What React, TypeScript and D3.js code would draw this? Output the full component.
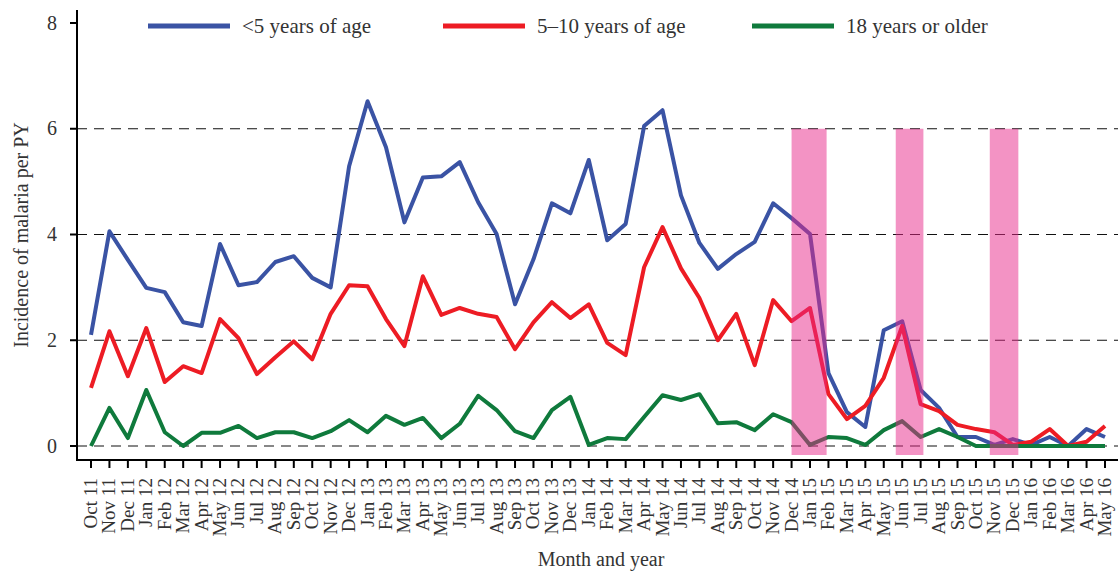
import React, { useEffect, useRef } from "react";
import * as d3 from "d3";

const months = [
  "Oct 11", "Nov 11", "Dec 11",
  "Jan 12", "Feb 12", "Mar 12", "Apr 12", "May 12", "Jun 12", "Jul 12", "Aug 12", "Sep 12", "Oct 12", "Nov 12", "Dec 12",
  "Jan 13", "Feb 13", "Mar 13", "Apr 13", "May 13", "Jun 13", "Jul 13", "Aug 13", "Sep 13", "Oct 13", "Nov 13", "Dec 13",
  "Jan 14", "Feb 14", "Mar 14", "Apr 14", "May 14", "Jun 14", "Jul 14", "Aug 14", "Sep 14", "Oct 14", "Nov 14", "Dec 14",
  "Jan 15", "Feb 15", "Mar 15", "Apr 15", "May 15", "Jun 15", "Jul 15", "Aug 15", "Sep 15", "Oct 15", "Nov 15", "Dec 15",
  "Jan 16", "Feb 16", "Mar 16", "Apr 16", "May 16",
];

const under5 = [
  2.1, 4.06, 3.52, 2.99, 2.91, 2.34, 2.27, 3.82, 3.04, 3.1, 3.48, 3.59, 3.18, 3.0, 5.29,
  6.52, 5.65, 4.23, 5.08, 5.1, 5.37, 4.61, 4.01, 2.68, 3.53, 4.59, 4.4,
  5.41, 3.89, 4.2, 6.05, 6.35, 4.74, 3.84, 3.35, 3.63, 3.86, 4.59, 4.31,
  4.01, 1.38, 0.64, 0.36, 2.19, 2.36, 1.06, 0.72, 0.17, 0.17, 0.02, 0.13,
  0.02, 0.17, 0.0, 0.32, 0.17,
];

const age5to10 = [
  1.1, 2.17, 1.32, 2.23, 1.21, 1.51, 1.38, 2.4, 2.04, 1.36, 1.68, 1.98, 1.64, 2.5, 3.04,
  3.02, 2.4, 1.89, 3.21, 2.48, 2.61, 2.5, 2.44, 1.83, 2.34, 2.72, 2.42,
  2.68, 1.95, 1.72, 3.38, 4.14, 3.36, 2.8, 2.0, 2.5, 1.53, 2.76, 2.36,
  2.61, 0.98, 0.51, 0.76, 1.29, 2.27, 0.79, 0.66, 0.4, 0.32, 0.26, 0.02,
  0.08, 0.32, 0.0, 0.08, 0.38,
];

const adults = [
  0.0, 0.72, 0.15, 1.06, 0.26, 0.0, 0.25, 0.25, 0.38, 0.15, 0.26, 0.26, 0.15, 0.28, 0.49,
  0.26, 0.57, 0.4, 0.53, 0.15, 0.42, 0.95, 0.68, 0.28, 0.15, 0.68, 0.93,
  0.02, 0.15, 0.13, 0.55, 0.96, 0.87, 0.98, 0.43, 0.45, 0.3, 0.6, 0.45,
  0.02, 0.17, 0.15, 0.02, 0.3, 0.47, 0.17, 0.32, 0.17, 0.0, 0.0, 0.0,
  0.0, 0.0, 0.0, 0.0, 0.0,
];

// shaded periods, in month-index units
const bandStarts = [38.0, 43.65, 48.75];
const bandEnds = [39.9, 45.15, 50.3];

const yTicks = [0, 2, 4, 6, 8];
const gridValues = [0, 2, 4, 6];

const seriesNames = ["<5 years of age", "5\u201310 years of age", "18 years or older"];
const seriesColors = ["#3a53a4", "#ed1c24", "#0f7a3c"];

const FONT = "'Liberation Serif', 'DejaVu Serif', 'Times New Roman', serif";

const App: React.FC = () => {
  const svgRef = useRef<SVGSVGElement>(null);
  const width = 1118;
  const height = 572;

  useEffect(() => {
    if (!svgRef.current) return;
    const svg = d3.select(svgRef.current);
    svg.selectAll("*").remove();

    const textColor = "#333";

    const x = d3.scaleLinear().domain([0, months.length - 1]).range([91, 1105]);
    const y = d3.scaleLinear().domain([0, 8]).range([446, 23]);
    const axisLeft = 77;
    const axisBottom = 460;

    // dashed grid
    svg
      .selectAll(".grid")
      .data(gridValues)
      .join("line")
      .attr("x1", axisLeft)
      .attr("x2", width)
      .attr("y1", (d) => y(d))
      .attr("y2", (d) => y(d))
      .attr("stroke", "#111")
      .attr("stroke-width", 1.2)
      .attr("stroke-dasharray", "10,7");

    // lines
    const allSeries = [under5, age5to10, adults];
    const line = d3
      .line<number>()
      .x((_, i) => x(i))
      .y((d) => y(d));

    allSeries.forEach((s, k) => {
      svg
        .append("path")
        .datum(s)
        .attr("d", line)
        .attr("fill", "none")
        .attr("stroke", seriesColors[k])
        .attr("stroke-width", 4)
        .attr("stroke-linejoin", "round");
    });

    // shaded bands on top
    svg
      .selectAll(".band")
      .data(bandStarts)
      .join("rect")
      .attr("x", (d) => x(d))
      .attr("width", (d, i) => x(bandEnds[i]) - x(d))
      .attr("y", y(6))
      .attr("height", y(-0.17) - y(6))
      .attr("fill", "#e8288a")
      .attr("fill-opacity", 0.5);

    // axes lines
    svg
      .append("line")
      .attr("x1", axisLeft)
      .attr("x2", axisLeft)
      .attr("y1", 10)
      .attr("y2", axisBottom + 1)
      .attr("stroke", "#000")
      .attr("stroke-width", 2);
    svg
      .append("line")
      .attr("x1", axisLeft)
      .attr("x2", width)
      .attr("y1", axisBottom)
      .attr("y2", axisBottom)
      .attr("stroke", "#000")
      .attr("stroke-width", 2);

    // y ticks
    const yt = svg.selectAll(".yt").data(yTicks).join("g");
    yt.append("line")
      .attr("x1", axisLeft - 7)
      .attr("x2", axisLeft)
      .attr("y1", (d) => y(d))
      .attr("y2", (d) => y(d))
      .attr("stroke", "#000")
      .attr("stroke-width", 2);
    yt.append("text")
      .attr("x", axisLeft - 20)
      .attr("y", (d) => y(d))
      .attr("dy", "0.33em")
      .attr("text-anchor", "end")
      .style("font-size", "20px")
      .attr("fill", textColor)
      .text((d) => d);

    // x ticks
    const xt = svg.selectAll(".xt").data(months).join("g");
    xt.append("line")
      .attr("x1", (_, i) => x(i))
      .attr("x2", (_, i) => x(i))
      .attr("y1", axisBottom)
      .attr("y2", axisBottom + 8)
      .attr("stroke", "#000")
      .attr("stroke-width", 2);
    xt.append("text")
      .attr("transform", (_, i) => `translate(${x(i) + 6},${axisBottom + 18}) rotate(-90)`)
      .attr("text-anchor", "end")
      .style("font-size", "19px")
      .attr("fill", textColor)
      .text((d) => d);

    // axis titles
    svg
      .append("text")
      .attr("x", 601)
      .attr("y", 566)
      .attr("text-anchor", "middle")
      .style("font-size", "20px")
      .attr("fill", textColor)
      .text("Month and year");
    svg
      .append("text")
      .attr("transform", `translate(28,235) rotate(-90)`)
      .attr("text-anchor", "middle")
      .style("font-size", "20px")
      .attr("fill", textColor)
      .text("Incidence of malaria per PY");

    // legend
    const legendX = [148, 443, 752];
    const lg = svg.selectAll(".legend").data(seriesNames).join("g");
    lg.append("line")
      .attr("x1", (_, i) => legendX[i])
      .attr("x2", (_, i) => legendX[i] + 82)
      .attr("y1", 26)
      .attr("y2", 26)
      .attr("stroke", (_, i) => seriesColors[i])
      .attr("stroke-width", 5);
    lg.append("text")
      .attr("x", (_, i) => legendX[i] + 94)
      .attr("y", 26)
      .attr("dy", "0.35em")
      .style("font-size", "21px")
      .attr("fill", textColor)
      .text((d) => d);
  }, []);

  return (
    <svg
      ref={svgRef}
      width={width}
      height={height}
      style={{ position: "absolute", left: 0, top: 0, background: "#fff", fontFamily: FONT }}
    />
  );
};

export default App;
